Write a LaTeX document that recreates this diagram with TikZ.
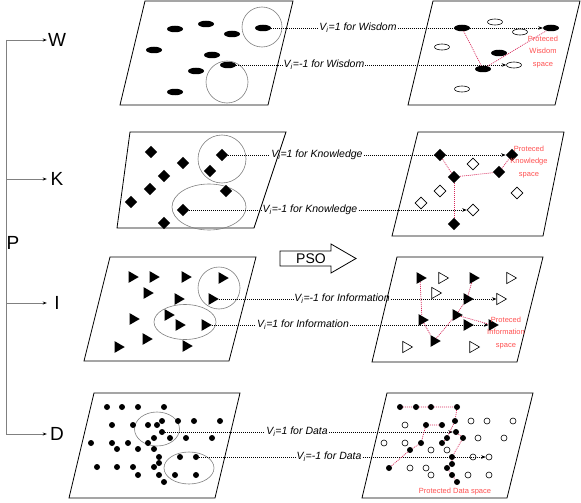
\documentclass[tikz,border=0pt]{standalone}
\usepackage{fontspec}
\setmainfont{Liberation Sans}
\usetikzlibrary{shapes.geometric,arrows.meta}
\definecolor{redline}{RGB}{214,40,90}
\definecolor{redtext}{RGB}{255,80,80}
\begin{document}
\begin{tikzpicture}[x=1pt,y=-1pt,
  panel/.style={draw=black,line width=0.8pt},
  ring/.style={draw=gray,line width=0.6pt},
  bell/.style={ellipse,fill=black,minimum width=16pt,minimum height=6.5pt,inner sep=0pt},
  obell/.style={ellipse,draw=black,fill=white,line width=0.6pt,minimum width=15pt,minimum height=6pt,inner sep=0pt},
  bdia/.style={diamond,fill=black,minimum width=12.5pt,minimum height=12.5pt,inner sep=0pt},
  odia/.style={diamond,draw=black,fill=white,line width=0.6pt,minimum width=12pt,minimum height=12pt,inner sep=0pt},
  btri/.style={regular polygon,regular polygon sides=3,shape border rotate=-90,fill=black,minimum size=13.5pt,inner sep=0pt},
  otri/.style={regular polygon,regular polygon sides=3,shape border rotate=-90,draw=black,fill=white,line width=0.6pt,minimum size=13pt,inner sep=0pt},
  bdot/.style={circle,fill=black,minimum size=6pt,inner sep=0pt},
  odot/.style={circle,draw=black,fill=white,line width=0.6pt,minimum size=6pt,inner sep=0pt},
  link/.style={dash pattern=on 1pt off 1pt,line width=0.6pt},
  linkarr/.style={link,-{Stealth[length=4.5pt,width=3.5pt]}},
  redlink/.style={draw=redline,dash pattern=on 1pt off 1pt,line width=0.7pt},
  vlab/.style={font=\fontsize{10.5}{12}\selectfont\itshape,inner sep=1pt},
  rlab/.style={font=\fontsize{7.5}{12.8}\selectfont,text=redtext,inner sep=0pt,align=center},
  big/.style={font=\fontsize{19}{22}\selectfont,inner sep=0pt,minimum width=20pt},
  brk/.style={draw=gray,line width=0.8pt},
  brkarr/.style={brk,-{Stealth[length=4pt,width=3pt,black]}}
]
\useasboundingbox (0,0) rectangle (581,503);

% ---------- panels ----------
\draw[panel] (145,1) -- (293,1) -- (268,105) -- (120,105) -- cycle;
\draw[panel] (433,1) -- (580,1) -- (555,105) -- (408,105) -- cycle;
\draw[panel] (130,132) -- (286,132) -- (254,228) -- (117,228) -- cycle;
\draw[panel] (418,132) -- (564,132) -- (543,236) -- (392,236) -- cycle;
\draw[panel] (110,257) -- (256,257) -- (229,361) -- (84,361) -- cycle;
\draw[panel] (397,257) -- (543,257) -- (517,362) -- (372,362) -- cycle;
\draw[panel] (94,393) -- (240,393) -- (215,498) -- (69,498) -- cycle;
\draw[panel] (387,393) -- (533,393) -- (507,498) -- (362,498) -- cycle;

% ---------- selection rings ----------
\draw[ring] (262,27) circle[radius=20];
\draw[ring] (227,82) circle[radius=21];
\draw[ring] (222,159) circle[radius=24];
\draw[ring] (209,207) ellipse[x radius=37,y radius=23];
\draw[ring] (219,288) circle[radius=21];
\draw[ring] (185,322) ellipse[x radius=31,y radius=17.5];
\draw[ring] (157,429) ellipse[x radius=22.5,y radius=17];
\draw[ring] (189,468) ellipse[x radius=25,y radius=16];

% ---------- W row ----------
\foreach \n/\x/\y in {1/175/29,2/206/24,3/232/34,4/263/28,5/154/50,6/212/55,7/228/65,8/196/71,9/175/92}
  \node[bell] (wl\n) at (\x,\y) {};
\foreach \n/\x/\y in {1/462/28,4/551/28,6/499/53,8/483/69}
  \node[bell] (wr\n) at (\x,\y) {};
\foreach \n/\x/\y in {2/495/22,3/520/32,5/442/47,7/514/65,9/462/89}
  \node[obell] (wr\n) at (\x,\y) {};
\node[vlab] (wlab1) at (358,28) {V\textsubscript{i}=1 for Wisdom};
\node[vlab] (wlab2) at (324,65) {V\textsubscript{i}=-1 for Wisdom};
\node[rlab] (wred) at (543,52) {Proteced\\Wisdom\\space};

% ---------- K row ----------
\foreach \n/\x/\y in {1/151/152,2/183/163,3/222/155,4/164/176,5/210/171,6/150/189,7/226/191,8/131/202,9/183/210,10/164/223}
  \node[bdia] (kl\n) at (\x,\y) {};
\foreach \n/\x/\y in {1/440/155,2/512/155,4/499/172,5/454/177,10/454/224}
  \node[bdia] (kr\n) at (\x,\y) {};
\foreach \n/\x/\y in {3/473/164,6/440/191,7/421/203,8/517/193,9/473/210}
  \node[odia] (kr\n) at (\x,\y) {};
\node[vlab] (klab1) at (317,155) {V\textsubscript{i}=1 for Knowledge};
\node[vlab] (klab2) at (310,210) {V\textsubscript{i}=-1 for Knowledge};
\node[rlab] (kred) at (529,162) {Proteced\\Knowledge\\space};

% ---------- I row ----------
\foreach \n/\x/\y in {1/132/277,2/153/277,3/185/277,4/222/278,5/147/293,6/178/299,7/212/299,8/133/319,9/168/315,10/179/325,11/205/325,12/118/347,13/146/339,14/186/346}
  \node[btri] (il\n) at (\x,\y) {};
\foreach \n/\x/\y in {1/420/278,3/473/278,6/467/299,8/456/315,9/422/320,10/467/325,11/492/325,13/434/341}
  \node[btri] (ir\n) at (\x,\y) {};
\foreach \n/\x/\y in {2/442/278,4/510/278,5/435/293,7/500/299,12/406/347,14/473/347}
  \node[otri] (ir\n) at (\x,\y) {};
\node[vlab] (ilab1) at (342,299) {V\textsubscript{i}=-1 for Information};
\node[vlab] (ilab2) at (303,325) {V\textsubscript{i}=1 for Information};
\node[rlab] (ired) at (506,333) {Proteced\\Information\\space};

% ---------- D row ----------
\foreach \n/\x/\y in {1/107/407,2/122/407,3/138/407,4/164/407,
  5/112/425,6/133/425,7/148/425,8/157/425,9/162/421,10/178/421,11/194/421,12/220/421,
  13/162/432,
  14/91/443,15/112/443,16/128/443,17/148/443,18/154/438,19/170/438,20/186/438,21/212/438,
  22/117/449,23/138/449,24/154/449,
  25/159/457,26/180/457,27/196/457,28/159/463,
  29/97/467,30/117/467,31/133/467,32/154/467,
  33/138/475,34/159/475,35/175/475,36/196/475,37/164/482}
  \node[bdot] (dl\n) at (\x,\y) {};
\foreach \n/\x/\y in {1/400/407,2/416/407,3/431/407,4/457/407,5/455/421,6/426/425,7/442/425,
  9/456/432,10/447/438,11/463/438,12/442/443,13/421/443,14/410/450,15/452/457,16/452/464,
  17/447/468,18/389/468,19/452/475,20/457/482}
  \node[bdot] (db\n) at (\x,\y) {};
\foreach \n/\x/\y in {1/405/425,2/471/421,3/487/421,4/513/421,5/384/443,6/405/443,7/478/438,8/504/438,
  9/431/450,10/447/450,11/473/457,12/489/457,13/410/468,14/426/468,15/431/475,16/468/475,17/489/475}
  \node[odot] (do\n) at (\x,\y) {};
\node[vlab] (dlab1) at (297,432) {V\textsubscript{i}=1 for Data};
\node[vlab] (dlab2) at (329,457) {V\textsubscript{i}=-1 for Data};
\node[rlab] (dred) at (455,492) {Protected Data space};

% ---------- black dotted links ----------
\draw[link] (wl4) -- (wlab1);  \draw[linkarr] (wlab1) -- (wr4);
\draw[link] (wl7) -- (wlab2);  \draw[linkarr] (wlab2) -- (wr7);
\draw[link] (kl3) -- (klab1);  \draw[linkarr] (klab1) -- (kr2);
\draw[link] (kl9) -- (klab2);  \draw[linkarr] (klab2) -- (kr9);
\draw[link] (il7) -- (ilab1);  \draw[linkarr] (ilab1) -- (ir7);
\draw[link] (il11) -- (ilab2); \draw[linkarr] (ilab2) -- (ir11);
\draw[link] (dl13) -- (dlab1); \draw[linkarr] (dlab1) -- (db9);
\draw[link] (dl27) -- (dlab2); \draw[linkarr] (dlab2) -- (do12);

% ---------- red protected-space links ----------
\draw[redlink] (wr1) -- (wr8) -- (wr4);
\draw[redlink] (kr1) -- (kr5) -- (kr4) -- (kr2);
\draw[redlink] (kr5) -- (kr10);
\draw[redlink] (ir1) -- (ir9) -- (ir13) -- (ir8) -- (ir6) -- (ir3);
\draw[redlink] (ir8) -- (ir11);
\draw[redlink] (db1) -- (db2) -- (db3) -- (db4) -- (db5) -- (db10) -- (db12);
\draw[redlink] (db7) -- (db6) -- (db13) -- (db14) -- (db18);
\draw[redlink] (db9) -- (db11) -- (db15) -- (db16) -- (db17) -- (db19) -- (db20);

% ---------- PSO arrow ----------
\node[font=\fontsize{14}{16}\selectfont,inner sep=0pt] (pso) at (311,258.5) {PSO};
\draw[line width=0.8pt] (280,251) -- (331,251) -- (331,244) -- (356,258.5) -- (331,273) -- (331,266) -- (280,266) -- cycle;

% ---------- hierarchy bracket ----------
\node[big] (W) at (57,40) {W};
\node[big] (K) at (57,179) {K};
\node[big] (I) at (57,303) {I};
\node[big] (D) at (57,434) {D};
\node[font=\fontsize{19}{22}\selectfont,inner sep=0pt] (P) at (13,243) {P};
\coordinate (pw) at (6,40);
\coordinate (pk) at (6,179);
\coordinate (pi) at (6,303);
\coordinate (pd) at (6,434);
\draw[brk] (pw) -- (pd);
\draw[brkarr] (pw) -- (W);
\draw[brkarr] (pk) -- (K);
\draw[brkarr] (pi) -- (I);
\draw[brkarr] (pd) -- (D);
\end{tikzpicture}
\end{document}
